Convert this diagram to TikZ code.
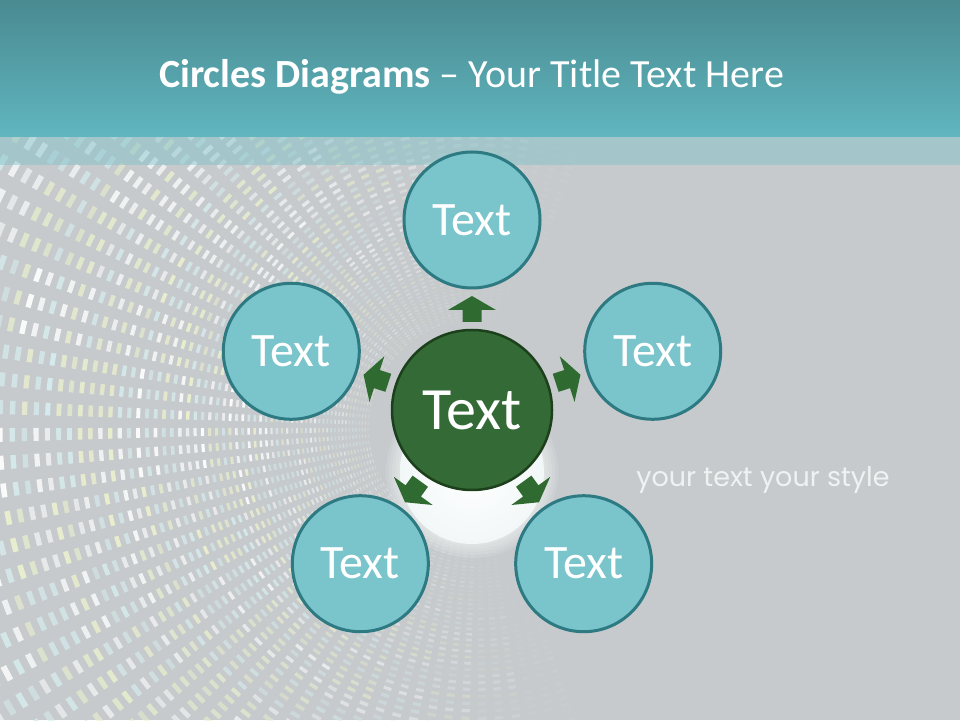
\documentclass[tikz,border=0pt]{standalone}
\usepackage{fontspec}
\setmainfont{Carlito}
\newfontfamily\stylefont{Poppins}
\usetikzlibrary{calc}
\definecolor{bggray}{RGB}{198,202,204}
\definecolor{bandtop}{RGB}{74,138,145}
\definecolor{bandbot}{RGB}{96,182,191}
\definecolor{bandlight}{RGB}{124,192,200}
\definecolor{satfill}{RGB}{122,196,203}
\definecolor{satline}{RGB}{45,122,130}
\definecolor{cenfill}{RGB}{52,106,53}
\definecolor{cenline}{RGB}{28,63,28}
\definecolor{arrowgreen}{RGB}{47,106,48}
\definecolor{dotA}{RGB}{255,255,255}
\definecolor{dotB}{RGB}{214,236,238}
\definecolor{dotC}{RGB}{236,242,206}
\definecolor{glowedge}{RGB}{242,247,248}
\tikzset{
  sat/.style={circle, draw=satline, line width=3pt, fill=satfill, minimum size=136pt, inner sep=0pt, text=white, font=\fontsize{48}{48}\selectfont},
  cen/.style={circle, draw=cenline, line width=2.5pt, fill=cenfill, minimum size=160pt, inner sep=0pt, text=white, font=\fontsize{60}{60}\selectfont},
  blockarrow/.style={fill=arrowgreen},
}
\begin{document}
\begin{tikzpicture}[x=1pt,y=1pt]
\useasboundingbox (0,0) rectangle (960,720);
\fill[bggray] (0,0) rectangle (960,720);
% radial (polar grid) pattern of small rectangles
\begin{scope}
\clip (0,0) rectangle (960,720);
\pgfmathsetseed{11}
\foreach \i in {0,...,68} {
  \pgfmathsetmacro\r{110*1.0266^\i}
  \pgfmathsetmacro\lw{0.0115*\r}
  \pgfmathsetmacro\per{2*pi*\r/108}
  \pgfmathsetmacro\dl{0.5*\per}
  \pgfmathsetmacro\dg{\per-\dl}
  \pgfmathsetmacro\rf{min(1,0.4+(\r-110)/220)}
  \foreach \a in {0,10,...,350} {
    \pgfmathsetmacro\op{\rf*(0.6+0.4*rnd)*max(0,min(0.95,0.25+0.7*(-cos(\a+5))))}
    \pgfmathrandominteger{\cc}{1}{3}
    \ifnum\cc=1 \def\col{dotA}\fi
    \ifnum\cc=2 \def\col{dotB}\fi
    \ifnum\cc=3 \def\col{dotC}\fi
    \ifdim\op pt>0.01pt
    \draw[shift={(478,292)}, color=\col, line width=\lw pt, opacity=\op,
          dash pattern=on \dl pt off \dg pt]
      (\a:\r) arc[start angle=\a, end angle=\a+10, radius=\r];
    \fi
  }
}
\end{scope}
% soft glow under the centre
\foreach \gr in {86,83,...,74} {
  \fill[white, opacity=0.12] (472,248) circle (\gr);
}
\shade[inner color=white, outer color=glowedge] (472,248) circle (72);
% title band
\shade[top color=bandtop, bottom color=bandbot] (0,583) rectangle (960,720);
\fill[bandlight, opacity=0.45] (0,555) rectangle (960,583);
\node[anchor=base west, text=white, font=\fontsize{40}{40}\selectfont, inner sep=0pt] (title) at (159,632)
  {\textbf{Circles Diagrams} – Your Title Text Here};
% centre and satellites
\coordinate (o) at (472,310);
\node[cen] (c) at (o) {Text};
\node[sat] (s1) at ($(o)+(90:190)$) {Text};
\node[sat] (s2) at ($(o)+(162:190)$) {Text};
\node[sat] (s3) at ($(o)+(18:190)$) {Text};
\node[sat] (s4) at ($(o)+(234:190)$) {Text};
\node[sat] (s5) at ($(o)+(306:190)$) {Text};
% block arrows
\foreach \ang in {90,162,18,234,306} {
  \fill[blockarrow, shift={(o)}, rotate=\ang-90]
    (-9.5,88) -- (9.5,88) -- (9.5,100) -- (24,100) -- (0,114) -- (-24,100) -- (-9.5,100) -- cycle;
}
% side text
\node[text={rgb,255:red,238;green,242;blue,243}, font=\stylefont\fontsize{27}{27}\selectfont, inner sep=0pt] (side) at (763,240) {your text your style};
\end{tikzpicture}
\end{document}
